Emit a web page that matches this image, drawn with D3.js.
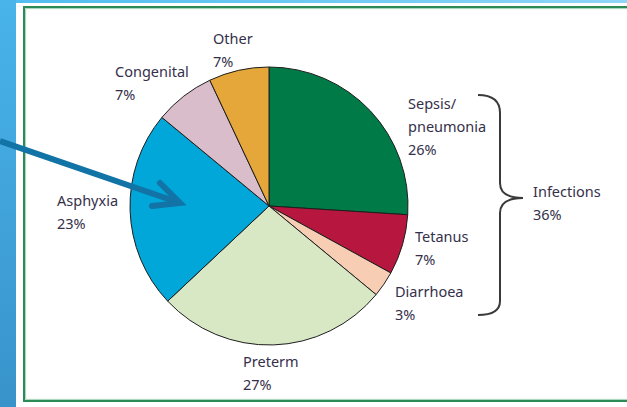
<!DOCTYPE html>
<html>
<head>
<meta charset="utf-8">
<script src="https://cdn.jsdelivr.net/npm/d3@7"></script>
<style>
  html, body { margin: 0; padding: 0; background: #fff; overflow: hidden; }
  svg { display: block; }
  .lbl { font-family: "Noto Sans", "DejaVu Sans", sans-serif; font-size: 14.5px; fill: #35304a; }
</style>
</head>
<body>
<div id="chart"></div>
<script>
// Causes of neonatal death, share of total (%)
const causes = ["Sepsis/pneumonia", "Tetanus", "Diarrhoea", "Preterm", "Asphyxia", "Congenital", "Other"];
const shares = [26, 7, 3, 27, 23, 7, 7];
const sliceColors = ["#007a47", "#b7173f", "#f7cdb3", "#d8e7c4", "#00a7d8", "#dabdcb", "#e5a73a"];
// label text lines for each cause (the % line is built from shares)
const labelLines = [["Sepsis/", "pneumonia"], ["Tetanus"], ["Diarrhoea"], ["Preterm"], ["Asphyxia"], ["Congenital"], ["Other"]];
const groupName = "Infections";
const groupMembers = ["Sepsis/pneumonia", "Tetanus", "Diarrhoea"];

(function () {
  "use strict";
  const W = 627, H = 407;
  const cx = 269, cy = 206, R = 139;
  const lineH = 23;

  // where each label's first baseline starts (layout only)
  const labelAt = {
    "Sepsis/pneumonia": [408, 109],
    "Tetanus": [415, 242],
    "Diarrhoea": [395, 297],
    "Preterm": [243, 367],
    "Asphyxia": [57, 206],
    "Congenital": [115, 77],
    "Other": [213, 44]
  };

  const svg = d3.select("#chart").append("svg").attr("width", W).attr("height", H);

  // --- slide background ---
  const defs = svg.append("defs");
  const side = defs.append("linearGradient").attr("id", "side").attr("x1", 0).attr("y1", 0).attr("x2", 0).attr("y2", 1);
  side.append("stop").attr("offset", 0).attr("stop-color", "#48b4ea");
  side.append("stop").attr("offset", 1).attr("stop-color", "#3993cb");
  const top = defs.append("linearGradient").attr("id", "top").attr("x1", 0).attr("y1", 0).attr("x2", 1).attr("y2", 0);
  top.append("stop").attr("offset", 0).attr("stop-color", "#4fbcee");
  top.append("stop").attr("offset", 1).attr("stop-color", "#8fd5f6");
  svg.append("rect").attr("width", W).attr("height", 3).attr("fill", "url(#top)");
  svg.append("rect").attr("width", 16).attr("height", H).attr("fill", "url(#side)");

  // --- figure frame (right side runs off the slide) ---
  const frame = d3.path();
  frame.moveTo(W + 10, 7); frame.lineTo(24, 7); frame.lineTo(24, 401); frame.lineTo(W + 10, 401);
  svg.append("path").attr("d", frame.toString())
    .attr("fill", "none").attr("stroke", "#2c8a57").attr("stroke-width", 2);
  const inner = d3.path();
  inner.moveTo(W + 10, 8.6); inner.lineTo(25.6, 8.6); inner.lineTo(25.6, 399.4); inner.lineTo(W + 10, 399.4);
  svg.append("path").attr("d", inner.toString())
    .attr("fill", "none").attr("stroke", "#8cc6a4").attr("stroke-width", 0.8);

  // --- pie ---
  const pie = d3.pie().sort(null).value((d) => d.v);
  const arc = d3.arc().innerRadius(0).outerRadius(R);
  const data = causes.map((c, i) => ({ c, v: shares[i], col: sliceColors[i], lines: labelLines[i] }));
  const g = svg.append("g").attr("transform", `translate(${cx},${cy})`);
  g.selectAll("path").data(pie(data)).enter().append("path")
    .attr("d", arc)
    .attr("fill", (d) => d.data.col)
    .attr("stroke", "#1e1e1e").attr("stroke-width", 1).attr("stroke-linejoin", "round");

  // --- labels ---
  data.forEach((d) => {
    const [x, y] = labelAt[d.c];
    const t = svg.append("text").attr("class", "lbl").attr("x", x).attr("y", y);
    d.lines.concat([d.v + "%"]).forEach((s, k) => {
      t.append("tspan").attr("x", x).attr("y", y + k * lineH).text(s);
    });
  });

  // --- brace for infections ---
  const groupTotal = d3.sum(data.filter((d) => groupMembers.includes(d.c)), (d) => d.v);
  svg.append("path")
    .attr("d", "M478,95 C493,95 500,101 500,113 L500,183 C500,193 508,198 523,198 " +
               "C508,198 500,203 500,213 L500,301 C500,310 493,315 478,315")
    .attr("fill", "none").attr("stroke", "#3a3a3a").attr("stroke-width", 2);
  const gt = svg.append("text").attr("class", "lbl").attr("x", 533).attr("y", 197);
  gt.append("tspan").attr("x", 533).attr("y", 197).text(groupName);
  gt.append("tspan").attr("x", 533).attr("y", 197 + lineH).text(groupTotal + "%");

  // --- pointer arrow from slide edge ---
  const ax0 = 0, ay0 = 141, ax1 = 180, ay1 = 203;
  svg.append("line").attr("x1", ax0).attr("y1", ay0).attr("x2", ax1 - 3).attr("y2", ay1 - 1)
    .attr("stroke", "#1274a6").attr("stroke-width", 6);
  svg.append("path").attr("d", `M160,183 L${ax1},${ay1} L152,206`)
    .attr("fill", "none").attr("stroke", "#1274a6").attr("stroke-width", 6)
    .attr("stroke-linecap", "round").attr("stroke-linejoin", "miter");
})();
</script>
</body>
</html>
